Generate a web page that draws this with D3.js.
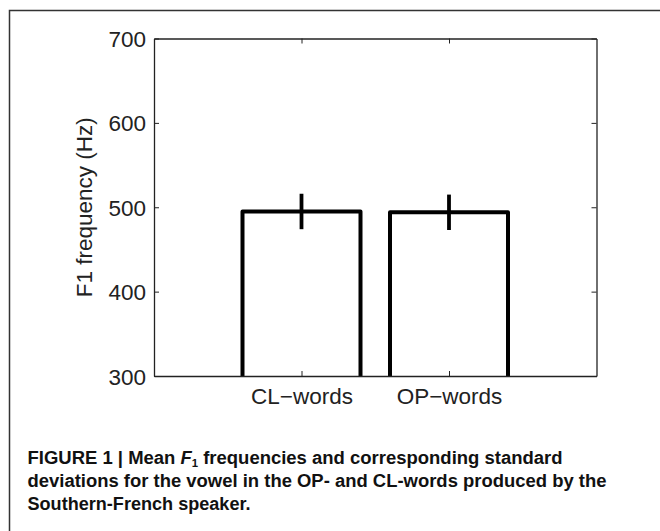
<!DOCTYPE html>
<html>
<head>
<meta charset="utf-8">
<script src="https://cdn.jsdelivr.net/npm/d3@7"></script>
<style>
  body { margin: 0; background: #fff; }
  svg { display: block; }
</style>
</head>
<body>
<div id="chart"></div>
<script>
// data
const categories = ["CL\u2212words", "OP\u2212words"];
const meanF1 = [495, 494];
const sdF1 = [21, 21];
const yTicks = [300, 400, 500, 600, 700];

const captionLines = [
    ["FIGURE 1 | Mean ", "F", "1", " frequencies and corresponding standard"],
    ["deviations for the vowel in the OP- and CL-words produced by the"],
    ["Southern-French speaker."]
];

const W = 660, H = 531;

const svg = d3.select("#chart")
    .append("svg")
    .attr("width", W)
    .attr("height", H);

// outer figure frame (runs off the right and bottom edge)
svg.append("rect")
    .attr("x", 9.5)
    .attr("y", 10.5)
    .attr("width", 700)
    .attr("height", 600)
    .attr("fill", "none")
    .attr("stroke", "#333")
    .attr("stroke-width", 1.5);

// plot box
const plot = { left: 154, right: 596.5, top: 38.5, bottom: 376 };

const x = d3.scaleLinear().domain([0, 3]).range([plot.left, plot.right]);
const y = d3.scaleLinear().domain([300, 700]).range([plot.bottom, plot.top]);

const barWidth = 0.8;
const tickLen = 5;
const axisColor = "#222";
const fontMain = "'Liberation Sans', Arial, Helvetica, sans-serif";
const fontSize = "22.5px";

// bars (open at the bottom, like MATLAB's bar outline)
const bars = svg.append("g").attr("class", "bars");
bars.selectAll("path")
    .data(meanF1)
    .enter()
    .append("path")
    .attr("d", (d, i) => {
        const x0 = x(i + 1 - barWidth / 2), x1 = x(i + 1 + barWidth / 2);
        return `M${x0},${y(300)}V${y(d)}H${x1}V${y(300)}`;
    })
    .attr("fill", "#fff")
    .attr("stroke", "#000")
    .attr("stroke-width", 4)
    .attr("stroke-linejoin", "round");

// error bars
bars.selectAll("line.err")
    .data(meanF1)
    .enter()
    .append("line")
    .attr("class", "err")
    .attr("x1", (d, i) => x(i + 1))
    .attr("x2", (d, i) => x(i + 1))
    .attr("y1", (d, i) => y(d - sdF1[i]))
    .attr("y2", (d, i) => y(d + sdF1[i]))
    .attr("stroke", "#000")
    .attr("stroke-width", 3.8);

// axes: left / right with inward ticks, bottom / top with inward ticks
const leftAxis = d3.axisLeft(y).tickValues(yTicks).tickSizeInner(-tickLen).tickSizeOuter(0).tickPadding(8);
const rightAxis = d3.axisRight(y).tickValues(yTicks).tickSizeInner(-tickLen).tickSizeOuter(0).tickFormat("");
const bottomAxis = d3.axisBottom(x).tickValues([1, 2]).tickSizeInner(-tickLen).tickSizeOuter(0)
    .tickFormat((d, i) => categories[i]).tickPadding(12);
const topAxis = d3.axisTop(x).tickValues([1, 2]).tickSizeInner(-tickLen).tickSizeOuter(0).tickFormat("");

function styleAxis(g) {
    g.select(".domain").attr("stroke", axisColor).attr("stroke-width", 1.3);
    g.selectAll(".tick line").attr("stroke", axisColor).attr("stroke-width", 1);
    g.selectAll(".tick text")
        .attr("fill", "#222")
        .style("font-family", fontMain)
        .style("font-size", fontSize);
}

svg.append("g").attr("transform", `translate(${plot.left},0)`).call(leftAxis).call(styleAxis)
    .selectAll(".tick text").attr("dy", "0.36em");
svg.append("g").attr("transform", `translate(${plot.right},0)`).call(rightAxis).call(styleAxis);
// bottom labels: place the baseline at about y = 404
svg.append("g").attr("transform", `translate(0,${plot.bottom})`).call(bottomAxis).call(styleAxis)
    .selectAll(".tick text").attr("y", 28).attr("dy", 0);
svg.append("g").attr("transform", `translate(0,${plot.top})`).call(topAxis).call(styleAxis);

// y axis title
svg.append("text")
    .attr("transform", `translate(92,${(plot.top + plot.bottom) / 2}) rotate(-90)`)
    .attr("text-anchor", "middle")
    .attr("fill", "#222")
    .style("font-family", fontMain)
    .style("font-size", fontSize)
    .text("F1 frequency (Hz)");

// caption
const capFont = "'Liberation Sans', Arial, sans-serif";
const capBaselines = [464, 487, 509.5];
const capWidths = [535, 579, 223];

captionLines.forEach((parts, li) => {
    const t = svg.append("text")
        .attr("x", 27.5)
        .attr("y", capBaselines[li])
        .attr("fill", "#111")
        .attr("textLength", capWidths[li])
        .attr("lengthAdjust", "spacingAndGlyphs")
        .style("font-family", capFont)
        .style("font-weight", "bold")
        .style("font-size", "18px");
    if (parts.length === 1) {
        t.text(parts[0]);
    } else {
        t.append("tspan").text(parts[0]);
        t.append("tspan").style("font-style", "italic").text(parts[1]);
        t.append("tspan").attr("dy", 3).style("font-size", "11px").text(parts[2]);
        t.append("tspan").attr("dy", -3).text(parts[3]);
    }
});
</script>
</body>
</html>
